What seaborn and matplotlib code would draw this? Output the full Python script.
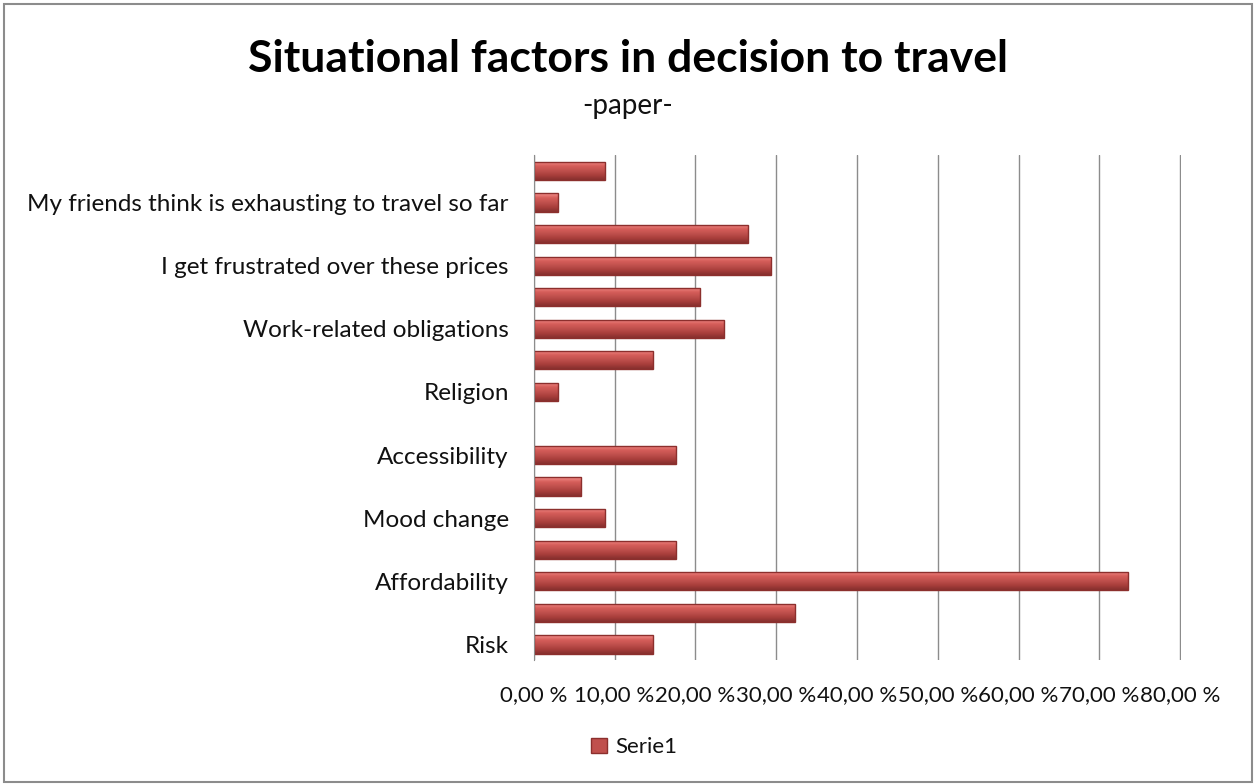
import numpy as np
import pandas as pd
import matplotlib
matplotlib.use('Agg')
import matplotlib.pyplot as plt
import seaborn as sns
from matplotlib.patches import Patch, Rectangle
from matplotlib.colors import LinearSegmentedColormap

sns.set_style('white')
plt.rcParams['font.family'] = ['Lato', 'DejaVu Sans']
plt.rcParams['text.color'] = '#111111'
plt.rcParams['xtick.color'] = '#111111'
plt.rcParams['ytick.color'] = '#111111'

# Categories from top to bottom (only every other label is shown in the original)
categories = ['hidden 8', 'My friends think is exhausting to travel so far',
              'hidden 7', 'I get frustrated over these prices',
              'hidden 6', 'Work-related obligations',
              'hidden 5', 'Religion',
              'hidden 4', 'Accessibility',
              'hidden 3', 'Mood change',
              'hidden 2', 'Affordability',
              'hidden 1', 'Risk']
shown = [False, True] * 8
values = [8.82, 2.94, 26.47, 29.41, 20.59, 23.53, 14.71, 2.94,
          0.0, 17.65, 5.88, 8.82, 17.65, 73.53, 32.35, 14.71]
xticks = [0, 10, 20, 30, 40, 50, 60, 70, 80]

df = pd.DataFrame({'factor': categories, 'pct': values})

fig = plt.figure(figsize=(12.56, 7.84), dpi=100)
ax = fig.add_axes([0.425, 0.158, 0.515, 0.644])

sns.barplot(data=df, y='factor', x='pct', color='#C0504D', width=0.58,
            edgecolor='#8C2F2D', linewidth=1.0, saturation=1, ax=ax)

# cylinder-ish shading like the Excel bars
shade = LinearSegmentedColormap.from_list('shade', ['#F4918D', '#D65E5A', '#C0504D', '#A83E3B', '#86302E'])
grad = np.linspace(0, 1, 64).reshape(-1, 1)
yl = ax.get_ylim()
for p in ax.patches:
    if p.get_width() <= 0:
        p.set_visible(False)
        continue
    x0, y0 = p.get_x(), p.get_y()
    im = ax.imshow(grad, cmap=shade, aspect='auto', interpolation='bicubic',
                   extent=(x0, x0 + p.get_width(), y0 + p.get_height(), y0), zorder=p.get_zorder())
    im.set_clip_path(p)
    p.set_facecolor('none')
    p.set_zorder(p.get_zorder() + 0.1)

ax.set_xlim(0, 80.05)
ax.set_ylim(yl)
ax.set_xticks(xticks)
ax.set_xticklabels([f'{t:.2f}'.replace('.', ',') + ' %' for t in xticks], fontsize=16)
ax.set_yticks(range(len(categories)))
ax.set_yticklabels([c if s else '' for c, s in zip(categories, shown)], fontsize=17.5)
ax.tick_params(axis='x', length=0, pad=18)
ax.tick_params(axis='y', length=0, pad=18)
ax.xaxis.grid(True, color='#8C8C8C', linewidth=1)
ax.set_axisbelow(True)
for side in ['top', 'right', 'bottom']:
    ax.spines[side].set_visible(False)
ax.spines['left'].set_color('#8C8C8C')
ax.set_xlabel('')
ax.set_ylabel('')

fig.text(0.5, 0.925, 'Situational factors in decision to travel', ha='center',
         va='center', fontsize=32, fontweight='bold', color='black')
fig.text(0.5, 0.865, '-paper-', ha='center', va='center', fontsize=20)

fig.legend(handles=[Patch(facecolor='#C0504D', edgecolor='#8C2F2D', label='Serie1')],
           loc='center', bbox_to_anchor=(0.505, 0.047), frameon=False, fontsize=16,
           handlelength=0.7, handleheight=0.7, handletextpad=0.4)

fig.patches.append(Rectangle((0.003, 0.003), 0.994, 0.992, transform=fig.transFigure,
                             fill=False, edgecolor='#8C8C8C', linewidth=1.5))

fig.savefig('out.png', dpi=100)
